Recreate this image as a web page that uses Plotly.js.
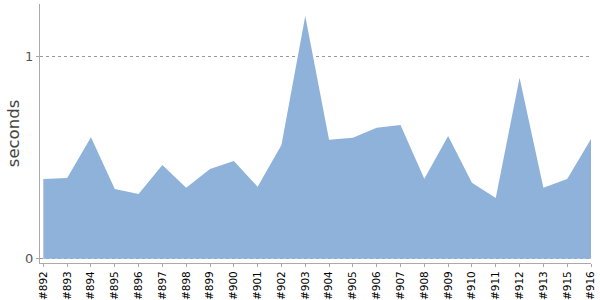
<!DOCTYPE html>
<html>
<head>
<meta charset="utf-8">
<script src="https://cdn.plot.ly/plotly-3.0.1.min.js"></script>
<style>html,body{margin:0;padding:0;background:#fff}#chart{width:600px;height:300px}</style>
</head>
<body>
<div id="chart"></div>
<script>
const builds = ['#892','#893','#894','#895','#896','#897','#898','#899','#900','#901','#902','#903','#904','#905','#906','#907','#908','#909','#910','#911','#912','#913','#915','#916'];
const seconds = [0.394,0.399,0.600,0.344,0.320,0.463,0.351,0.443,0.483,0.356,0.562,1.199,0.588,0.598,0.647,0.661,0.395,0.606,0.375,0.300,0.894,0.351,0.394,0.591];
const yTicks = [0, 1];

const idx = builds.map((b, i) => i);

const trace = {
  x: idx,
  y: seconds,
  type: 'scatter',
  mode: 'lines',
  fill: 'tozeroy',
  fillcolor: '#8FB2DA',
  line: {width: 0, color: '#8FB2DA'},
  hoverinfo: 'x+y'
};

const layout = {
  width: 600,
  height: 300,
  margin: {l: 40, r: 9, t: 4, b: 37},
  paper_bgcolor: '#fff',
  plot_bgcolor: '#fff',
  showlegend: false,
  font: {family: 'DejaVu Sans, sans-serif', color: '#444'},
  xaxis: {
    range: [-0.14, builds.length - 1],
    tickvals: idx,
    ticktext: builds,
    tickangle: -90,
    tickfont: {size: 10.5, color: '#000'},
    ticks: 'outside',
    ticklen: 3,
    tickcolor: '#aaa',
    showline: true,
    linecolor: '#aaa',
    linewidth: 1,
    showgrid: false,
    zeroline: false
  },
  yaxis: {
    range: [-0.021, 1.258],
    tickvals: yTicks,
    ticktext: yTicks.map(String),
    tickfont: {size: 13, color: '#555'},
    ticks: 'outside',
    ticklen: 3,
    tickcolor: '#aaa',
    showline: true,
    linecolor: '#aaa',
    linewidth: 1,
    showgrid: true,
    gridcolor: '#999',
    griddash: 'dot',
    gridwidth: 1,
    zeroline: false,
    title: {text: 'seconds', font: {size: 16.5, color: '#444'}, standoff: 1}
  }
};

Plotly.newPlot('chart', [trace], layout, {displayModeBar: false, staticPlot: true});
</script>
</body>
</html>
